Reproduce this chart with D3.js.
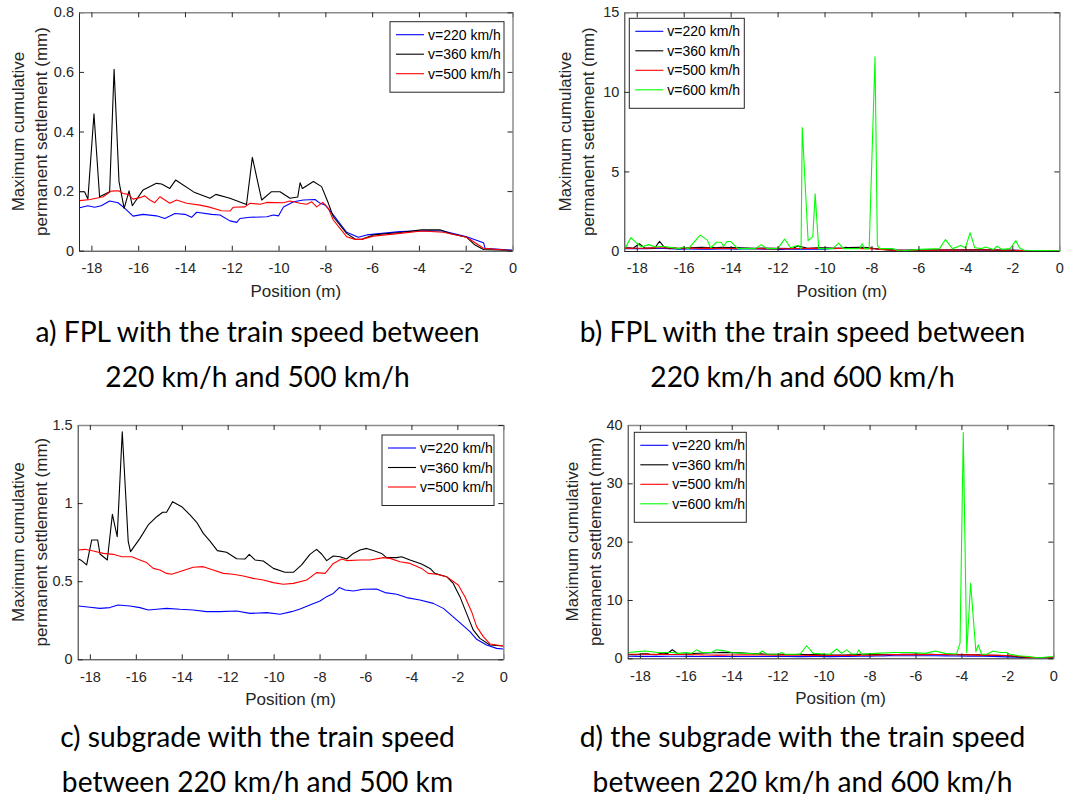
<!DOCTYPE html>
<html>
<head>
<meta charset="utf-8">
<script src="https://cdn.jsdelivr.net/npm/d3@7"></script>
<style>
  body { margin: 0; background: #fff; }
  svg { display: block; }
  .tick text { font-family: "Liberation Sans", Arial, sans-serif; font-size: 14.5px; fill: #262626; }
  .axis-label { font-family: "Liberation Sans", Arial, sans-serif; font-size: 17px; fill: #262626; }
  .legend-text { font-family: "Liberation Sans", Arial, sans-serif; font-size: 14px; fill: #000; }
  .caption { font-family: Lato, "Open Sans", sans-serif; font-size: 28.2px; fill: #000; }
</style>
</head>
<body>
<div id="chart"></div>
<script>
// FPL, 220 / 360 / 500 / 600 km/h (positions in m, settlement in mm)
const fplX220 = [-18.5, -18.15, -17.86, -17.58, -17.22, -16.86, -16.57, -16.22, -15.79, -15.22, -14.86, -14.43, -14.0, -13.72, -13.5, -12.86, -12.5, -12.08, -11.79, -11.65, -11.22, -10.5, -10.22, -10.0, -9.79, -9.36, -8.94, -8.44, -8.22, -8.0, -7.66, -7.09, -6.59, -6.23, -4.81, -3.88, -2.96, -1.96, -1.24, -1.17, 0];
const fplY220 = [0.144, 0.151, 0.146, 0.151, 0.167, 0.161, 0.142, 0.116, 0.122, 0.117, 0.108, 0.125, 0.122, 0.112, 0.129, 0.122, 0.120, 0.100, 0.095, 0.108, 0.112, 0.114, 0.120, 0.117, 0.147, 0.164, 0.170, 0.172, 0.159, 0.153, 0.120, 0.062, 0.045, 0.053, 0.064, 0.067, 0.066, 0.047, 0.027, 0.008, 0.002];

const fplX360 = [-18.5, -18.29, -18.15, -17.89, -17.65, -17.22, -17.03, -16.82, -16.6, -16.39, -16.25, -15.79, -15.22, -15.0, -14.65, -14.4, -13.58, -12.93, -12.68, -12.08, -11.37, -11.12, -10.72, -10.3, -9.94, -9.51, -9.18, -9.08, -8.98, -8.51, -8.16, -7.87, -7.66, -7.09, -6.73, -6.45, -5.95, -4.81, -3.88, -3.1, -2.67, -1.96, -1.6, -1.24, 0];
const fplY360 = [0.198, 0.198, 0.173, 0.459, 0.181, 0.198, 0.609, 0.232, 0.142, 0.201, 0.151, 0.204, 0.226, 0.224, 0.209, 0.237, 0.195, 0.176, 0.189, 0.176, 0.155, 0.313, 0.170, 0.198, 0.198, 0.176, 0.180, 0.228, 0.209, 0.232, 0.215, 0.159, 0.114, 0.058, 0.039, 0.038, 0.053, 0.061, 0.070, 0.070, 0.058, 0.045, 0.019, 0.004, 0];

const fplX500 = [-18.5, -18.05, -17.5, -17.15, -16.83, -16.65, -16.43, -16.22, -15.93, -15.72, -15.5, -15.29, -15.07, -14.65, -14.36, -13.93, -13.36, -13.0, -12.43, -12.08, -11.93, -11.44, -11.22, -10.79, -10.5, -9.79, -9.51, -9.08, -8.8, -8.58, -8.37, -8.11, -7.87, -7.66, -7.09, -6.73, -6.45, -5.95, -4.81, -3.88, -2.96, -1.96, -1.24, 0];
const fplY500 = [0.168, 0.172, 0.181, 0.200, 0.201, 0.192, 0.189, 0.173, 0.178, 0.184, 0.170, 0.161, 0.181, 0.159, 0.170, 0.159, 0.153, 0.147, 0.134, 0.133, 0.146, 0.147, 0.159, 0.156, 0.162, 0.161, 0.167, 0.159, 0.156, 0.164, 0.147, 0.162, 0.142, 0.103, 0.047, 0.038, 0.038, 0.049, 0.058, 0.066, 0.062, 0.045, 0.008, 0];

const fplX600 = [-18.5, -18.25, -18.0, -17.8, -17.5, -17.2, -16.9, -16.2, -16.0, -15.8, -15.3, -15.0, -14.85, -14.6, -14.4, -14.3, -14.15, -14.0, -13.7, -12.95, -12.7, -12.45, -12.0, -11.7, -11.45, -11.15, -11.0, -10.95, -10.7, -10.5, -10.4, -10.25, -9.65, -9.4, -9.2, -8.5, -8.4, -8.3, -8.1, -7.85, -7.75, -7.65, -7.1, -6.8, -5.95, -5.1, -4.85, -4.55, -4.2, -4.0, -3.8, -3.6, -3.3, -3.15, -2.8, -2.65, -2.45, -2.1, -1.85, -1.7, -1.5, 0];
const fplY600 = [0.15, 0.84, 0.5, 0.25, 0.4, 0.25, 0.3, 0.15, 0.25, 0.15, 1.0, 0.7, 0.2, 0.55, 0.55, 0.3, 0.6, 0.6, 0.15, 0.15, 0.4, 0.15, 0.15, 0.75, 0.2, 0.35, 0.15, 7.75, 0.65, 0.9, 3.6, 0.15, 0.15, 0.5, 0.15, 0.15, 0.45, 0.15, 0.15, 12.2, 0.35, 0.15, 0.15, 0.0, 0.1, 0.15, 0.72, 0.15, 0.35, 0.2, 1.15, 0.2, 0.15, 0.25, 0.1, 0.3, 0.1, 0.15, 0.65, 0.2, 0.05, 0.02];

// subgrade, 220 / 360 / 500 / 600 km/h
const subX220 = [-18.5, -18.0, -17.56, -17.13, -16.77, -16.26, -15.82, -15.46, -15.09, -14.66, -14.08, -13.5, -12.92, -12.34, -11.61, -11.03, -10.3, -9.72, -9.22, -8.85, -8.42, -7.98, -7.69, -7.4, -7.14, -6.89, -6.53, -6.1, -5.52, -5.15, -4.64, -4.21, -3.63, -3.05, -2.61, -2.03, -1.45, -1.16, -0.73, -0.29, 0];
const subY220 = [0.341, 0.333, 0.326, 0.331, 0.348, 0.341, 0.331, 0.316, 0.320, 0.326, 0.320, 0.316, 0.305, 0.305, 0.309, 0.294, 0.299, 0.288, 0.305, 0.322, 0.348, 0.373, 0.401, 0.422, 0.459, 0.444, 0.437, 0.448, 0.450, 0.427, 0.416, 0.395, 0.380, 0.358, 0.326, 0.252, 0.177, 0.128, 0.092, 0.070, 0.066];

const subX360 = [-18.5, -18.36, -18.14, -17.92, -17.66, -17.56, -17.24, -17.02, -16.81, -16.59, -16.33, -16.23, -15.82, -15.46, -15.09, -14.83, -14.66, -14.4, -14.0, -13.64, -13.35, -13.06, -12.77, -12.45, -12.05, -11.61, -11.25, -11.06, -10.81, -10.45, -10.01, -9.51, -9.14, -8.78, -8.42, -8.13, -7.91, -7.69, -7.4, -7.11, -6.82, -6.53, -6.24, -5.95, -5.66, -5.3, -5.08, -4.64, -4.43, -4.06, -3.56, -3.19, -2.98, -2.47, -2.18, -1.89, -1.6, -1.31, -1.02, -0.58, 0];
const subY360 = [0.642, 0.632, 0.604, 0.764, 0.764, 0.674, 0.636, 0.928, 0.785, 1.457, 0.753, 0.689, 0.774, 0.860, 0.913, 0.941, 0.941, 1.009, 0.977, 0.924, 0.877, 0.806, 0.757, 0.696, 0.685, 0.644, 0.642, 0.672, 0.636, 0.629, 0.582, 0.557, 0.557, 0.604, 0.672, 0.704, 0.674, 0.632, 0.661, 0.657, 0.642, 0.678, 0.700, 0.710, 0.696, 0.678, 0.651, 0.651, 0.657, 0.636, 0.610, 0.582, 0.550, 0.529, 0.486, 0.401, 0.294, 0.188, 0.134, 0.092, 0.085];

const subX500 = [-18.5, -18.21, -17.85, -17.42, -16.98, -16.61, -16.18, -15.82, -15.53, -15.24, -14.95, -14.66, -14.44, -14.0, -13.5, -13.06, -12.63, -12.19, -11.76, -11.32, -10.89, -10.45, -10.01, -9.58, -9.14, -8.56, -8.13, -7.76, -7.4, -7.04, -6.82, -6.24, -5.81, -5.22, -4.93, -4.5, -4.06, -3.56, -3.27, -2.9, -2.47, -1.96, -1.67, -1.38, -1.16, -0.87, -0.58, 0];
const subY500 = [0.700, 0.704, 0.693, 0.678, 0.672, 0.657, 0.657, 0.636, 0.619, 0.582, 0.572, 0.550, 0.544, 0.565, 0.589, 0.593, 0.572, 0.550, 0.544, 0.533, 0.518, 0.508, 0.491, 0.480, 0.486, 0.508, 0.555, 0.550, 0.614, 0.642, 0.632, 0.636, 0.636, 0.651, 0.646, 0.625, 0.614, 0.582, 0.550, 0.544, 0.529, 0.476, 0.401, 0.305, 0.209, 0.145, 0.098, 0.085];

const subX600 = [-18.5, -18.07, -17.78, -17.2, -16.6, -16.33, -16.04, -15.75, -15.53, -15.31, -14.88, -14.66, -14.3, -14.0, -13.4, -12.85, -12.67, -12.48, -11.97, -11.83, -11.68, -11.03, -10.74, -10.45, -9.72, -9.43, -9.22, -9.0, -8.78, -8.56, -8.46, -8.35, -7.76, -6.89, -6.17, -5.59, -5.15, -4.72, -4.21, -4.06, -3.92, -3.77, -3.6, -3.37, -3.27, -3.12, -2.9, -2.61, -2.32, -2.03, -1.89, -1.52, -1.09, -0.65, 0];
const subY600 = [1.0, 1.15, 1.25, 1.0, 1.0, 0.85, 1.0, 0.85, 1.45, 1.0, 1.0, 1.45, 1.3, 1.0, 0.85, 0.75, 1.25, 0.75, 0.7, 1.0, 0.7, 0.7, 2.15, 0.85, 0.7, 1.6, 0.85, 1.45, 0.75, 0.75, 1.45, 0.7, 0.85, 1.0, 1.0, 0.85, 1.25, 0.85, 0.75, 2.6, 38.7, 1.0, 12.85, 1.15, 2.3, 0.7, 0.7, 1.25, 1.0, 1.0, 0.7, 0.45, 0.3, 0.1, 0.3];

const speedLabels = ["v=220 km/h", "v=360 km/h", "v=500 km/h", "v=600 km/h"];
const speedColors = ["#0000ff", "#000000", "#ff0000", "#00ff00"];

const xTicks = [-18, -16, -14, -12, -10, -8, -6, -4, -2, 0];
const yTicksA = [0, 0.2, 0.4, 0.6, 0.8];
const yTicksB = [0, 5, 10, 15];
const yTicksC = [0, 0.5, 1, 1.5];
const yTicksD = [0, 10, 20, 30, 40];

const captionsA = ["a) FPL with the train speed between", "220 km/h and 500 km/h"];
const captionsB = ["b) FPL with the train speed between", "220 km/h and 600 km/h"];
const captionsC = ["c) subgrade with the train speed", "between 220 km/h and 500 km"];
const captionsD = ["d) the subgrade with the train speed", "between 220 km/h and 600 km/h"];

const svg = d3.select("#chart").append("svg")
    .attr("width", 1088)
    .attr("height", 800);

function zip(xs, ys) {
    return xs.map((x, i) => [x, ys[i]]);
}

function drawPanel(p) {
    const width = p.right - p.left,
        height = p.bottom - p.top;
    const g = svg.append("g").attr("transform", `translate(${p.left},${p.top})`);

    const x = d3.scaleLinear().domain([-18.53, 0]).range([0, width]);
    const y = d3.scaleLinear().domain([0, p.yMax]).range([height, 0]);

    // clip lines to the plot box
    g.append("clipPath").attr("id", "clip-" + p.id)
      .append("rect").attr("width", width).attr("height", height);

    const line = d3.line().x(d => x(d[0])).y(d => y(d[1]));
    g.append("g")
      .attr("clip-path", `url(#clip-${p.id})`)
      .selectAll("path")
      .data(p.series)
      .join("path")
        .attr("d", d => line(zip(d.xs, d.ys)))
        .attr("fill", "none")
        .attr("stroke", d => speedColors[d.k])
        .attr("stroke-width", 1.1)
        .attr("stroke-linejoin", "round");

    // axes, ticks pointing inwards like matlab, mirrored on top/right
    const fmt = d => String(d);
    const bottom = g.append("g").attr("transform", `translate(0,${height})`)
      .call(d3.axisBottom(x).tickValues(xTicks).tickFormat(fmt).tickSizeInner(-5).tickSizeOuter(0).tickPadding(12));
    const left = g.append("g")
      .call(d3.axisLeft(y).tickValues(p.yTicks).tickFormat(fmt).tickSizeInner(-5).tickSizeOuter(0).tickPadding(5));
    const top = g.append("g")
      .call(d3.axisTop(x).tickValues(xTicks).tickFormat("").tickSizeInner(-5).tickSizeOuter(0));
    const right = g.append("g").attr("transform", `translate(${width},0)`)
      .call(d3.axisRight(y).tickValues(p.yTicks).tickFormat("").tickSizeInner(-5).tickSizeOuter(0));
    [bottom, left, top, right].forEach(a => {
        a.selectAll("path, line").attr("stroke", "#262626");
    });
    [top, right].forEach(a => a.select(".domain").attr("stroke", "#8c8c8c").attr("stroke-width", 1.5));

    g.append("text")
      .attr("class", "axis-label")
      .attr("x", width / 2)
      .attr("y", height + 46)
      .attr("text-anchor", "middle")
      .text("Position (m)");

    const yl = g.append("text")
      .attr("class", "axis-label")
      .attr("text-anchor", "middle")
      .attr("transform", `translate(${p.yLab},${height / 2}) rotate(-90)`);
    yl.append("tspan").attr("x", 0).attr("dy", 0).text("Maximum cumulative");
    yl.append("tspan").attr("x", 0).attr("dy", 23).text("permanent settlement (mm)");

    // legend
    const n = p.series.length;
    const lg = svg.append("g").attr("transform", `translate(${p.legend[0]},${p.legend[1]})`);
    lg.append("rect")
      .attr("width", p.legendW)
      .attr("height", 12 + n * 19.5)
      .attr("fill", "#fff")
      .attr("stroke", "#262626")
      .attr("stroke-width", 1);
    p.series.forEach((s, i) => {
        const yy = 13 + i * 19.5;
        lg.append("line")
          .attr("x1", 6).attr("x2", 34).attr("y1", yy).attr("y2", yy)
          .attr("stroke", speedColors[s.k]).attr("stroke-width", 1.1);
        lg.append("text")
          .attr("class", "legend-text")
          .attr("x", 38).attr("y", yy + 5)
          .text(speedLabels[s.k]);
    });

    // caption
    p.captions.forEach((c, i) => {
        svg.append("text")
          .attr("class", "caption")
          .attr("x", p.capX)
          .attr("y", p.capY + i * 45)
          .attr("text-anchor", "middle")
          .text(c);
    });
}

drawPanel({
    id: "a", left: 79, top: 12.3, right: 512.5, bottom: 250.7, yMax: 0.8, yTicks: yTicksA,
    series: [{k: 0, xs: fplX220, ys: fplY220}, {k: 1, xs: fplX360, ys: fplY360}, {k: 2, xs: fplX500, ys: fplY500}],
    yLab: -55, legend: [390, 21.7], legendW: 114, captions: captionsA, capX: 257.5, capY: 341.5
});
drawPanel({
    id: "b", left: 624.3, top: 12.3, right: 1059.3, bottom: 251, yMax: 15, yTicks: yTicksB,
    series: [{k: 0, xs: fplX220, ys: fplY220}, {k: 1, xs: fplX360, ys: fplY360}, {k: 2, xs: fplX500, ys: fplY500}, {k: 3, xs: fplX600, ys: fplY600}],
    yLab: -53.5, legend: [629.3, 18.3], legendW: 115, captions: captionsB, capX: 802.5, capY: 341.5
});
drawPanel({
    id: "c", left: 77.7, top: 425, right: 503.3, bottom: 659.3, yMax: 1.5, yTicks: yTicksC,
    series: [{k: 0, xs: subX220, ys: subY220}, {k: 1, xs: subX360, ys: subY360}, {k: 2, xs: subX500, ys: subY500}],
    yLab: -53.5, legend: [382, 435], legendW: 112, captions: captionsC, capX: 257.5, capY: 746.5
});
drawPanel({
    id: "d", left: 627.7, top: 425, right: 1053.3, bottom: 658.3, yMax: 40, yTicks: yTicksD,
    series: [{k: 0, xs: subX220, ys: subY220}, {k: 1, xs: subX360, ys: subY360}, {k: 2, xs: subX500, ys: subY500}, {k: 3, xs: subX600, ys: subY600}],
    yLab: -50, legend: [634.3, 432.3], legendW: 112, captions: captionsD, capX: 802.5, capY: 746.5
});
</script>
</body>
</html>
